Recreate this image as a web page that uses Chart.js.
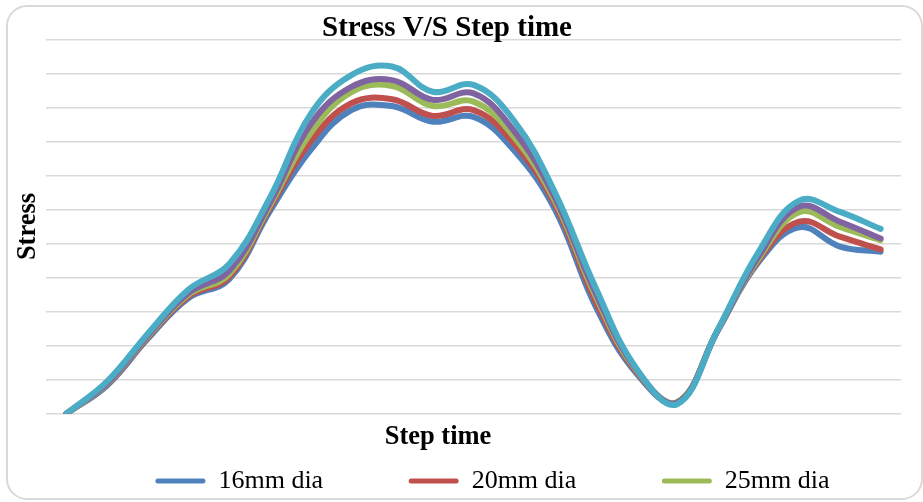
<!DOCTYPE html>
<html>
<head>
<meta charset="utf-8">
<script src="https://cdn.jsdelivr.net/npm/chart.js@4"></script>
<style>
  html, body { margin: 0; padding: 0; background: #ffffff; }
  #c { display: block; }
</style>
</head>
<body>
<canvas id="c" width="923" height="502"></canvas>
<script>
// ---- Data ----
const stepLabels = ['1','2','3','4','5','6','7','8','9','10','11','12','13','14','15','16','17','18','19','20','21'];
const seriesNames = ['16mm dia', '20mm dia', '25mm dia', '28mm dia', '32mm dia'];
const dia16 = [0, 0.83, 2.20, 3.40, 3.95, 5.95, 7.75, 8.92, 9.04, 8.58, 8.72, 7.73, 6.00, 3.15, 1.19, 0.32, 2.45, 4.45, 5.48, 4.91, 4.76];
const dia20 = [0, 0.86, 2.24, 3.45, 4.02, 6.05, 8.00, 9.12, 9.24, 8.75, 8.92, 7.93, 6.15, 3.30, 1.23, 0.33, 2.45, 4.50, 5.64, 5.20, 4.83];
const dia25 = [0, 0.88, 2.27, 3.50, 4.10, 6.12, 8.25, 9.45, 9.63, 9.04, 9.17, 8.12, 6.25, 3.45, 1.27, 0.34, 2.45, 4.55, 5.92, 5.49, 5.10];
const dia28 = [0, 0.90, 2.30, 3.55, 4.20, 6.20, 8.50, 9.60, 9.80, 9.22, 9.41, 8.30, 6.35, 3.55, 1.30, 0.32, 2.45, 4.62, 6.08, 5.64, 5.15];
const dia32 = [0, 0.95, 2.35, 3.65, 4.40, 6.35, 8.80, 9.95, 10.20, 9.46, 9.66, 8.60, 6.50, 3.70, 1.33, 0.28, 2.47, 4.75, 6.26, 5.93, 5.43];
const yTicks = [0, 1, 2, 3, 4, 5, 6, 7, 8, 9, 10, 11];

const colors = ['#4F81BD', '#C0504D', '#9BBB59', '#8064A2', '#4BACC6'];
const serif = "'Liberation Serif', 'Times New Roman', serif";
const allSeries = [dia16, dia20, dia25, dia28, dia32];

Chart.defaults.color = '#000000';

const frameAndShift = {
  id: 'frameAndShift',
  beforeDraw(chart) {
    const ctx = chart.ctx;
    ctx.save();
    ctx.fillStyle = '#ffffff';
    ctx.fillRect(0, 0, chart.width, chart.height);
    ctx.strokeStyle = '#d9d9d9';
    ctx.lineWidth = 2;
    ctx.beginPath();
    ctx.roundRect(7, 6, 915, 493, 20);
    ctx.stroke();
    ctx.restore();
  },
  afterLayout(chart) {
    if (chart.titleBlock) {
      chart.titleBlock.left -= 7.5;
      chart.titleBlock.right -= 7.5;
    }
    const lg = chart.legend;
    if (lg) {
      lg.top -= 85.5;
      lg.left += 38;
      lg.right += 38;
    }
    const xs = chart.scales.x;
    if (xs && !xs._shiftPatched) {
      const orig = xs.drawTitle;
      xs.drawTitle = function () {
        const c = this.ctx;
        c.save();
        c.translate(-35.5, 0);
        orig.apply(this, arguments);
        c.restore();
      };
      xs._shiftPatched = true;
    }
  }
};

new Chart(document.getElementById('c'), {
  type: 'line',
  data: {
    labels: stepLabels,
    datasets: allSeries.map((vals, i) => ({
      label: seriesNames[i],
      data: vals,
      borderColor: colors[i],
      backgroundColor: colors[i],
      borderWidth: 6,
      pointRadius: 0,
      pointHoverRadius: 0,
      tension: 0.4,
      fill: false,
      borderCapStyle: 'round',
      borderJoinStyle: 'round',
      order: allSeries.length - i
    }))
  },
  options: {
    responsive: false,
    animation: false,
    layout: { padding: { left: 8, right: 22, top: 9.5, bottom: 0 } },
    scales: {
      x: {
        type: 'category',
        offset: true,
        grid: { display: false, drawTicks: false },
        border: { display: false },
        ticks: { display: false },
        title: {
          display: true,
          text: 'Step time',
          color: '#000000',
          font: { family: serif, size: 26.5, weight: 'bold', lineHeight: 1 },
          padding: { top: 10.35, bottom: 17.45 }
        }
      },
      y: {
        min: yTicks[0],
        max: yTicks[yTicks.length - 1],
        afterBuildTicks(scale) { scale.ticks = yTicks.map(v => ({ value: v })); },
        grid: { color: '#d9d9d9', lineWidth: 1.5, drawTicks: false },
        border: { display: false },
        ticks: { display: false },
        title: {
          display: true,
          text: 'Stress',
          color: '#000000',
          font: { family: serif, size: 26.5, weight: 'bold', lineHeight: 1 },
          padding: { top: 7.25, bottom: 4.25 }
        }
      }
    },
    plugins: {
      title: {
        display: true,
        text: 'Stress V/S Step time',
        color: '#000000',
        font: { family: serif, size: 29, weight: 'bold', lineHeight: 1 },
        padding: { top: 4.4, bottom: -3.6 }
      },
      legend: {
        display: true,
        position: 'bottom',
        maxHeight: 34,
        labels: {
          color: '#000000',
          font: { family: serif, size: 26 },
          boxWidth: 50,
          boxHeight: 5,
          padding: 85.5,
          useBorderRadius: true,
          borderRadius: 2.5,
          filter: (item) => item.datasetIndex < 3,
          sort: (a, b) => a.datasetIndex - b.datasetIndex,
          generateLabels(chart) {
            const items = Chart.defaults.plugins.legend.labels.generateLabels(chart);
            items.forEach(it => { it.fillStyle = it.strokeStyle; it.lineWidth = 0; });
            return items;
          }
        }
      },
      tooltip: { enabled: false }
    }
  },
  plugins: [frameAndShift]
});
</script>
</body>
</html>
